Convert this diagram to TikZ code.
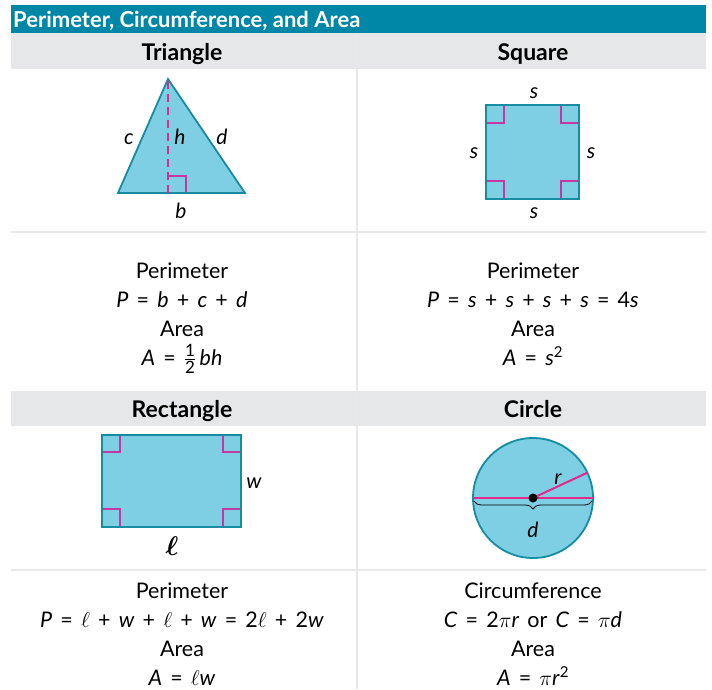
\RequirePackage{fix-cm}
\documentclass[tikz,border=0pt]{standalone}
\usepackage{amsmath}
\usepackage{fontspec}
\setmainfont{Lato}
\usetikzlibrary{decorations.pathreplacing}
\definecolor{barteal}{RGB}{0,134,166}
\definecolor{shapefill}{RGB}{126,207,228}
\definecolor{shapeline}{RGB}{22,140,160}
\definecolor{markpink}{RGB}{196,54,160}
\definecolor{linepink}{RGB}{226,40,140}
\definecolor{headgray}{RGB}{230,231,232}
\definecolor{rulegray}{RGB}{232,232,232}
\newcommand{\iv}[1]{\textit{#1}}
\newcommand{\widesp}{\spaceskip=0.38em\relax}
\newcommand{\fracdigit}[1]{\text{\fontsize{17}{17}\selectfont #1}}
\begin{document}
\begin{tikzpicture}[x=1pt, y=-1pt, font=\fontsize{21.5}{25}\selectfont,
  figshape/.style={fill=shapefill, draw=shapeline, line width=1.8pt},
  rightmark/.style={draw=markpink, line width=1.3pt},
  headtxt/.style={anchor=base, inner sep=0pt, font=\fontsize{23}{26}\selectfont\bfseries},
  line/.style={anchor=base, inner sep=0pt, font=\fontsize{21.5}{25}\selectfont\widesp},
  lbl/.style={anchor=base, inner sep=0pt, font=\fontsize{21}{24}\selectfont\itshape}]
\useasboundingbox (0,0) rectangle (712,689);
% table frame
\fill[barteal] (11,5) rectangle (706,33);
\fill[headgray] (11,33) rectangle (706,69);
\fill[headgray] (11,391) rectangle (706,426);
\draw[rulegray, line width=1.5pt] (11,232) -- (706,232);
\draw[rulegray, line width=1.5pt] (11,570) -- (706,570);
\draw[rulegray, line width=1.5pt] (357,33) -- (357,689);
\node[anchor=base west, inner sep=0pt, text=white, font=\fontsize{22}{25}\selectfont\bfseries] (title) at (13,27) {Perimeter, Circumference, and Area};
\node[headtxt] (htri) at (182,60) {Triangle};
\node[headtxt] (hsq) at (533,60) {Square};
\node[headtxt] (hrect) at (182,417) {Rectangle};
\node[headtxt] (hcirc) at (533,417) {Circle};
% triangle
\draw[figshape, line join=miter] (168,79) -- (245,193) -- (118,193) -- cycle;
\draw[linepink, line width=1.3pt, dash pattern=on 8pt off 5pt] (168,81) -- (168,193);
\draw[rightmark] (168,176) -- (186,176) -- (186,192);
\node[lbl] (lc) at (129,144) {c};
\node[lbl] (lh) at (180,144) {h};
\node[lbl] (ld) at (222,144) {d};
\node[lbl] (lb) at (181,218) {b};
% square
\draw[figshape] (486,105) rectangle (579,199);
\draw[rightmark] (487,123) -- (504,123) -- (504,106);
\draw[rightmark] (578,123) -- (561,123) -- (561,106);
\draw[rightmark] (487,181) -- (504,181) -- (504,198);
\draw[rightmark] (578,181) -- (561,181) -- (561,198);
\node[lbl] (st) at (534,98) {s};
\node[lbl] (sl) at (474,158) {s};
\node[lbl] (sr) at (591,158) {s};
\node[lbl] (sb) at (534,218) {s};
% rectangle
\draw[figshape] (102,435) rectangle (241,527);
\draw[rightmark] (103,452) -- (120,452) -- (120,436);
\draw[rightmark] (240,452) -- (223,452) -- (223,436);
\draw[rightmark] (103,509) -- (120,509) -- (120,526);
\draw[rightmark] (240,509) -- (223,509) -- (223,526);
\node[lbl] (rw) at (254,488) {w};
\node[anchor=base, inner sep=0pt, font=\fontsize{27}{30}\selectfont] (rl) at (172,555) {$\boldsymbol{\ell}$};
% circle
\draw[figshape] (533,498) circle[radius=60];
\coordinate (cc) at (533,498);
\coordinate (cl) at (473,498);
\coordinate (cr) at (593,498);
\draw[linepink, line width=2pt] (cl) -- (cr);
\draw[linepink, line width=2pt] (cc) -- ++(-25:60) coordinate (crad);
\fill[black] (cc) circle[radius=4.5];
\draw[black, line width=0.8pt, decorate, decoration={brace, mirror, amplitude=8pt}] (474,501) -- (592,501);
\node[lbl] (lr) at (558,484) {r};
\node[lbl] (ldia) at (533,537) {d};
% formulas
\node[line] (tp) at (182,278) {Perimeter};
\node[line] (tpf) at (182,307) {\iv{P} = \iv{b} + \iv{c} + \iv{d}};
\node[line] (ta) at (182,336) {Area};
\node[line] (taf) at (182,365) {\iv{A} = $\frac{\fracdigit{1}}{\fracdigit{2}}$\,\iv{bh}};
\node[line] (sp) at (533,278) {Perimeter};
\node[line] (spf) at (533,307) {\iv{P} = \iv{s} + \iv{s} + \iv{s} + \iv{s} = 4\iv{s}};
\node[line] (sa) at (533,336) {Area};
\node[line] (saf) at (533,365) {\iv{A} = \iv{s}\textsuperscript{2}};
\node[line] (rp) at (182,598) {Perimeter};
\node[line] (rpf) at (182,627) {\iv{P} = $\ell$ + \iv{w} + $\ell$ + \iv{w} = 2$\ell$ + 2\iv{w}};
\node[line] (ra) at (182,656) {Area};
\node[line] (raf) at (182,685) {\iv{A} = $\ell$\iv{w}};
\node[line] (cp) at (533,598) {Circumference};
\node[line] (cpf) at (533,627) {\iv{C} = 2$\pi$\iv{r} or \iv{C} = $\pi$\iv{d}};
\node[line] (ca) at (533,656) {Area};
\node[line] (caf) at (533,685) {\iv{A} = $\pi$\iv{r}\textsuperscript{2}};
\end{tikzpicture}
\end{document}
